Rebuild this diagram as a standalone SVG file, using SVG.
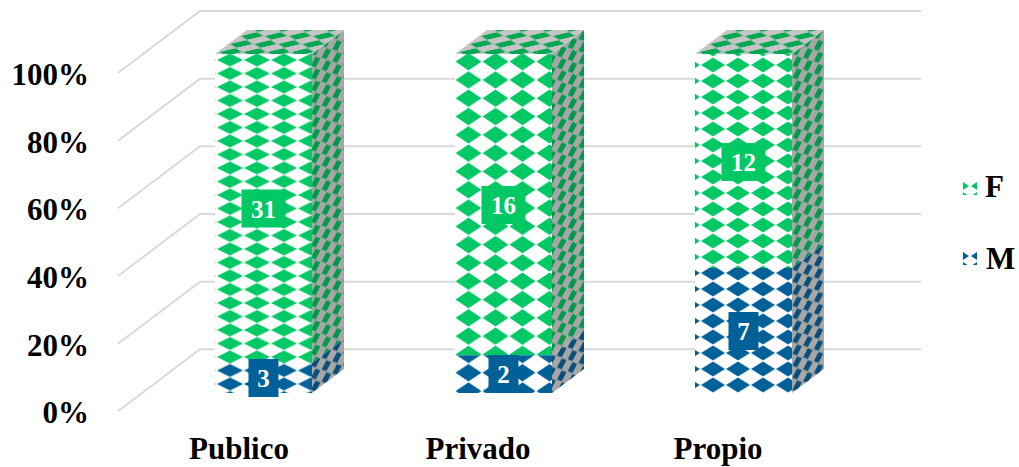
<svg xmlns="http://www.w3.org/2000/svg" width="1019" height="467" viewBox="0 0 1019 467">
<style>
.grid{fill:none;stroke:#D9D9D9;stroke-width:2}
.ax{font-family:"Liberation Serif","Times New Roman",serif;font-weight:bold;font-size:31px;fill:#000}
.yl{text-anchor:end}
.cl{text-anchor:middle}
.lb{font-family:"Liberation Serif","Times New Roman",serif;font-weight:bold;font-size:25px;fill:#fff;text-anchor:middle}
.gbox{fill:#00C864}
.bbox{fill:#006198}
.bg{fill:#fff}
.sbg{fill:#A6A6A6}
.tbg{fill:#C4C4C4}
.gd{fill:#00C864}
.bd{fill:#006198}
.gsd{fill:#009A4C}
.bsd{fill:#0A4F7A}
</style>
<defs>
<pattern id="gf1" patternUnits="userSpaceOnUse" x="189.5" y="53.25" width="27" height="13.5"><rect class="bg" width="27" height="13.5"/><polygon class="gd" points="0.5,6.75 13.5,0.3 26.5,6.75 13.5,13.2"/></pattern>
<pattern id="bf1" patternUnits="userSpaceOnUse" x="189.5" y="53.25" width="27" height="13.5"><rect class="bg" width="27" height="13.5"/><polygon class="bd" points="0.5,6.75 13.5,0.3 26.5,6.75 13.5,13.2"/></pattern>
<pattern id="gf2" patternUnits="userSpaceOnUse" x="455" y="52.5" width="27" height="18.3"><rect class="bg" width="27" height="18.3"/><polygon class="gd" points="0.5,9.15 13.5,0.5 26.5,9.15 13.5,17.8"/></pattern>
<pattern id="bf2" patternUnits="userSpaceOnUse" x="455" y="52.5" width="27" height="18.3"><rect class="bg" width="27" height="18.3"/><polygon class="bd" points="0.5,9.15 13.5,0.5 26.5,9.15 13.5,17.8"/></pattern>
<pattern id="gf3" patternUnits="userSpaceOnUse" x="700.5" y="57" width="25" height="16"><rect class="bg" width="25" height="16"/><polygon class="gd" points="0.5,8 12.5,0.4 24.5,8 12.5,15.6"/></pattern>
<pattern id="bf3" patternUnits="userSpaceOnUse" x="700.5" y="57" width="25" height="16"><rect class="bg" width="25" height="16"/><polygon class="bd" points="0.5,8 12.5,0.4 24.5,8 12.5,15.6"/></pattern>
<pattern id="gs" patternUnits="userSpaceOnUse" width="10.7" height="12" patternTransform="skewY(-37.7)"><rect class="sbg" width="10.7" height="12"/><polygon class="gsd" points="0.6,6 5.35,0.4 10.1,6 5.35,11.6"/></pattern>
<pattern id="bs" patternUnits="userSpaceOnUse" width="10.7" height="12" patternTransform="skewY(-37.7)"><rect class="sbg" width="10.7" height="12"/><polygon class="bsd" points="0.6,6 5.35,0.4 10.1,6 5.35,11.6"/></pattern>
<pattern id="tp" patternUnits="userSpaceOnUse" width="24" height="8" patternTransform="skewX(-53.1)"><rect class="tbg" width="24" height="8"/><polygon fill="#00A852" points="1,4 12,0.3 23,4 12,7.7"/></pattern>
<pattern id="lg" patternUnits="userSpaceOnUse" x="956" y="181" width="14" height="10"><rect class="bg" width="14" height="10"/><polygon class="gd" points="1,5 7,1 13,5 7,9"/></pattern>
<pattern id="lbp" patternUnits="userSpaceOnUse" x="956" y="251" width="14" height="10"><rect class="bg" width="14" height="10"/><polygon class="bd" points="1,5 7,1 13,5 7,9"/></pattern>
</defs>
<rect width="1019" height="467" fill="#fff"/>
<g id="gridlines">
<path class="grid" d="M118,73 L200,11 L921,11"/>
<path class="grid" d="M118,140.7 L200,78.7 L921,78.7"/>
<path class="grid" d="M118,208.3 L200,146.3 L921,146.3"/>
<path class="grid" d="M118,276 L200,214 L921,214"/>
<path class="grid" d="M118,343.7 L200,281.7 L921,281.7"/>
<path class="grid" d="M118,411.3 L200,349.3 L921,349.3"/>
</g>
<g id="y-axis">
<text class="ax yl" x="89" y="85">100%</text>
<text class="ax yl" x="89" y="152.7">80%</text>
<text class="ax yl" x="89" y="220.3">60%</text>
<text class="ax yl" x="89" y="288">40%</text>
<text class="ax yl" x="89" y="355.7">20%</text>
<text class="ax yl" x="89" y="423.3">0%</text>
</g>
<g id="bar-publico">
<rect x="215" y="54" width="97" height="309" fill="url(#gf1)"/>
<rect x="215" y="363" width="97" height="30" fill="url(#bf1)"/>
<polygon points="312,54 344,30 344,339 312,363" fill="url(#gs)"/>
<polygon points="312,363 344,339 344,369 312,393" fill="url(#bs)"/>
<polygon points="215,54 247,30 344,30 312,54" fill="url(#tp)"/>
<rect class="gbox" x="241.5" y="189.5" width="44" height="38"/>
<text class="lb" x="263.5" y="217.5">31</text>
<rect class="bbox" x="248.5" y="359" width="30" height="38"/>
<text class="lb" x="263.5" y="387">3</text>
</g>
<g id="bar-privado">
<rect x="455" y="54" width="97" height="301.3" fill="url(#gf2)"/>
<rect x="455" y="355.3" width="97" height="37.7" fill="url(#bf2)"/>
<polygon points="552,54 584,30 584,331.3 552,355.3" fill="url(#gs)"/>
<polygon points="552,355.3 584,331.3 584,369 552,393" fill="url(#bs)"/>
<polygon points="455,54 487,30 584,30 552,54" fill="url(#tp)"/>
<rect class="gbox" x="481.5" y="186" width="44" height="38"/>
<text class="lb" x="503.5" y="214">16</text>
<rect class="bbox" x="488.5" y="355" width="30" height="38"/>
<text class="lb" x="503.5" y="383">2</text>
</g>
<g id="bar-propio">
<rect x="695" y="54" width="97" height="214" fill="url(#gf3)"/>
<rect x="695" y="268" width="97" height="125" fill="url(#bf3)"/>
<polygon points="792,54 824,30 824,244 792,268" fill="url(#gs)"/>
<polygon points="792,268 824,244 824,369 792,393" fill="url(#bs)"/>
<polygon points="695,54 727,30 824,30 792,54" fill="url(#tp)"/>
<rect class="gbox" x="721.5" y="143" width="44" height="38"/>
<text class="lb" x="743.5" y="171">12</text>
<rect class="bbox" x="728.5" y="312" width="30" height="38"/>
<text class="lb" x="743.5" y="340">7</text>
</g>
<g id="x-axis">
<text class="ax cl" x="239" y="459">Publico</text>
<text class="ax cl" x="478" y="459">Privado</text>
<text class="ax cl" x="718" y="459">Propio</text>
</g>
<g id="legend">
<rect x="963" y="181" width="14" height="14" fill="url(#lg)"/>
<text class="ax" x="985" y="197">F</text>
<rect x="963" y="251" width="14" height="14" fill="url(#lbp)"/>
<text class="ax" x="986" y="269">M</text>
</g>
</svg>
